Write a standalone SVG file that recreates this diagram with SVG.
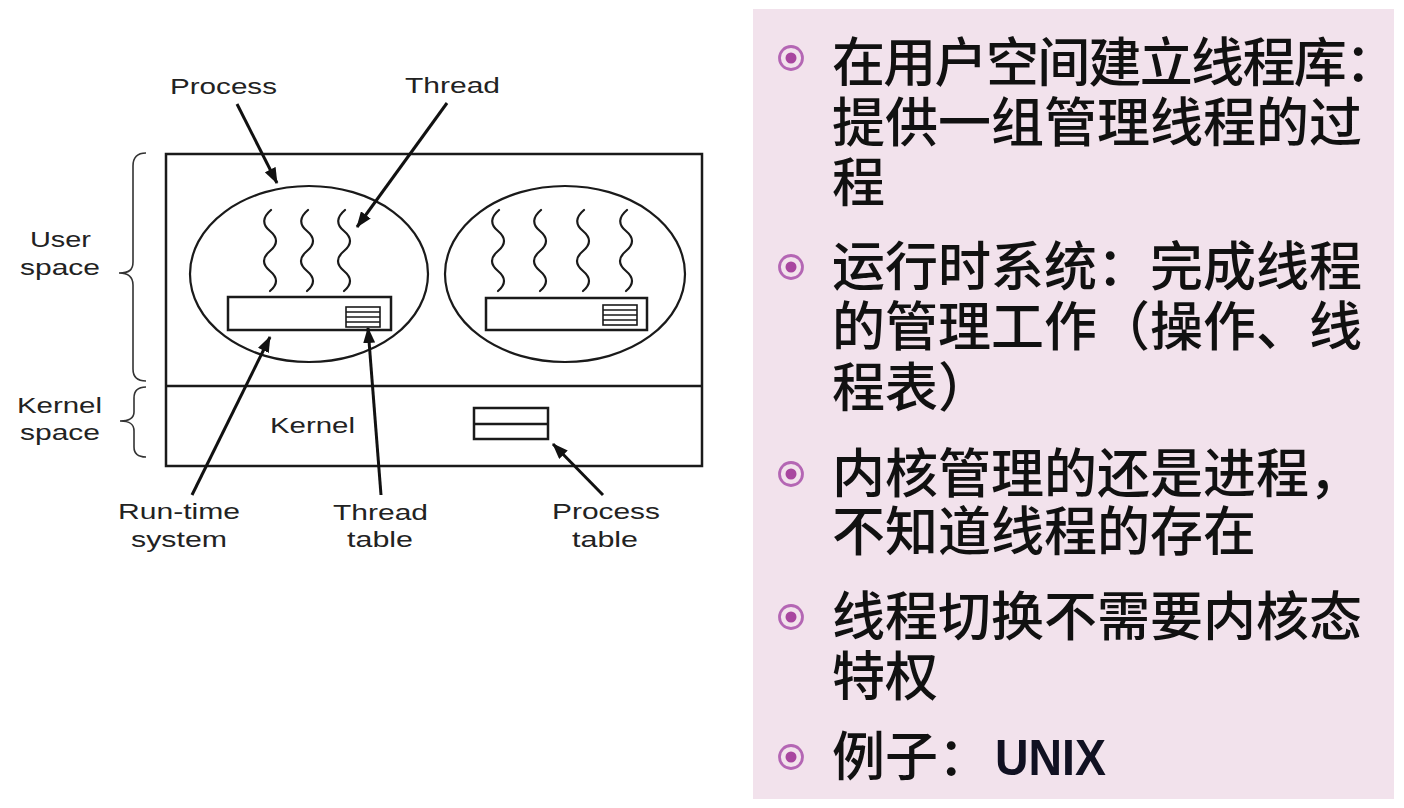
<svg xmlns="http://www.w3.org/2000/svg" width="1404" height="808" viewBox="0 0 1404 808">
<style>
.box{fill:none;stroke:#1a1a1a;stroke-width:2.5}
.ell{fill:none;stroke:#1a1a1a;stroke-width:2.2}
.thin{fill:none;stroke:#1a1a1a;stroke-width:1.6}
.sq{fill:none;stroke:#1a1a1a;stroke-width:2.2;stroke-linecap:round}
.brace{fill:none;stroke:#333;stroke-width:1.6}
.lbl{font-family:"Liberation Sans",Arial,sans-serif;font-size:22px;fill:#222}
.conn{stroke:#111;stroke-width:3;fill:none}
.cjk{font-family:"Noto Sans CJK SC","Noto Sans",sans-serif;font-size:53px;font-weight:500;fill:#111}
.lat{font-family:"Liberation Sans",Arial,sans-serif;font-size:50px;font-weight:bold;fill:#111122}
.ring{fill:none;stroke:#b466b4;stroke-width:2.8}
.dot{fill:#a8469f}
</style>
<defs>
<marker id="ah" markerUnits="userSpaceOnUse" markerWidth="16" markerHeight="12" refX="15" refY="6" orient="auto">
<path d="M0,0 L16,6 L0,12 Z" fill="#111"/>
</marker>
<path id="squig" d="M1,210 q-13,11 -1,21 t0,20 t0,20 t0,20"/>
</defs>
<rect width="1404" height="808" fill="#ffffff"/>

<g id="outer-box">
<rect class="box" x="166" y="154" width="536" height="312"/>
<line class="box" x1="166" y1="386" x2="702" y2="386"/>
</g>

<g id="process-left">
<ellipse class="ell" cx="309" cy="274" rx="119" ry="88"/>
<use href="#squig" class="sq" x="270"/>
<use href="#squig" class="sq" x="307"/>
<use href="#squig" class="sq" x="344"/>
<rect class="box" x="228" y="297" width="163" height="33"/>
<rect class="thin" x="346" y="307" width="34" height="20"/>
<path class="thin" d="M346,312 H380 M346,317 H380 M346,322 H380"/>
</g>

<g id="process-right">
<ellipse class="ell" cx="565" cy="274" rx="120" ry="88"/>
<use href="#squig" class="sq" x="498"/>
<use href="#squig" class="sq" x="540"/>
<use href="#squig" class="sq" x="583"/>
<use href="#squig" class="sq" x="626"/>
<rect class="box" x="486" y="298" width="161" height="32"/>
<rect class="thin" x="603" y="305" width="34" height="20"/>
<path class="thin" d="M603,310 H637 M603,315 H637 M603,320 H637"/>
</g>

<g id="process-table">
<rect class="box" x="474" y="408" width="74" height="31"/>
<line class="box" x1="474" y1="424" x2="548" y2="424"/>
</g>

<g id="user-space">
<path class="brace" d="M146,153 C137,153 133,157 133,166 L133,262 C133,270 129,273 119,273 C129,273 133,277 133,285 L133,369 C133,377 137,381 146,381"/>
<text class="lbl" x="30" y="247" textLength="61" lengthAdjust="spacingAndGlyphs">User</text>
<text class="lbl" x="20" y="275" textLength="80" lengthAdjust="spacingAndGlyphs">space</text>
</g>

<g id="kernel-space">
<path class="brace" d="M146,387 C137,387 134,391 134,398 L134,412 C134,418 130,421 120,421 C130,421 134,424 134,431 L134,447 C134,453 137,457 146,457"/>
<text class="lbl" x="17" y="413" textLength="85" lengthAdjust="spacingAndGlyphs">Kernel</text>
<text class="lbl" x="20" y="440" textLength="80" lengthAdjust="spacingAndGlyphs">space</text>
</g>

<g id="kernel">
<text class="lbl" x="270" y="433" textLength="85" lengthAdjust="spacingAndGlyphs">Kernel</text>
</g>

<g id="labels">
<text class="lbl" x="170" y="94" textLength="107" lengthAdjust="spacingAndGlyphs">Process</text>
<text class="lbl" x="405" y="93" textLength="95" lengthAdjust="spacingAndGlyphs">Thread</text>
<text class="lbl" x="118" y="519" textLength="122" lengthAdjust="spacingAndGlyphs">Run-time</text>
<text class="lbl" x="131" y="547" textLength="96" lengthAdjust="spacingAndGlyphs">system</text>
<text class="lbl" x="333" y="520" textLength="95" lengthAdjust="spacingAndGlyphs">Thread</text>
<text class="lbl" x="347" y="547" textLength="66" lengthAdjust="spacingAndGlyphs">table</text>
<text class="lbl" x="552" y="519" textLength="108" lengthAdjust="spacingAndGlyphs">Process</text>
<text class="lbl" x="572" y="547" textLength="66" lengthAdjust="spacingAndGlyphs">table</text>
</g>

<g id="connectors">
<line class="conn" x1="237" y1="104" x2="277" y2="183" marker-end="url(#ah)"/>
<line class="conn" x1="447" y1="103" x2="357" y2="227" marker-end="url(#ah)"/>
<line class="conn" x1="192" y1="495" x2="270" y2="337" marker-end="url(#ah)"/>
<line class="conn" x1="381" y1="495" x2="368" y2="328" marker-end="url(#ah)"/>
<line class="conn" x1="603" y1="495" x2="553" y2="444" marker-end="url(#ah)"/>
</g>

<g id="panel">
<rect x="753" y="9" width="641" height="790" fill="#f2e2ec"/>
</g>

<g id="bullet-1">
<circle class="ring" cx="791" cy="58" r="11.5"/><circle class="dot" cx="791" cy="58" r="5.5"/>
<text class="cjk" x="832" y="82" textLength="566" lengthAdjust="spacing">在用户空间建立线程库：</text>
<text class="cjk" x="832" y="142">提供一组管理线程的过</text>
<text class="cjk" x="832" y="202">程</text>
</g>
<g id="bullet-2">
<circle class="ring" cx="791" cy="267" r="11.5"/><circle class="dot" cx="791" cy="267" r="5.5"/>
<text class="cjk" x="832" y="286">运行时系统：完成线程</text>
<text class="cjk" x="832" y="346">的管理工作（操作、线</text>
<text class="cjk" x="832" y="407">程表）</text>
</g>
<g id="bullet-3">
<circle class="ring" cx="791" cy="474" r="11.5"/><circle class="dot" cx="791" cy="474" r="5.5"/>
<text class="cjk" x="832" y="493">内核管理的还是进程，</text>
<text class="cjk" x="832" y="551">不知道线程的存在</text>
</g>
<g id="bullet-4">
<circle class="ring" cx="791" cy="617" r="11.5"/><circle class="dot" cx="791" cy="617" r="5.5"/>
<text class="cjk" x="832" y="636">线程切换不需要内核态</text>
<text class="cjk" x="832" y="696">特权</text>
</g>
<g id="bullet-5">
<circle class="ring" cx="791" cy="757" r="11.5"/><circle class="dot" cx="791" cy="757" r="5.5"/>
<text class="cjk" x="832" y="776">例子：</text>
<text class="lat" x="995" y="775" textLength="111" lengthAdjust="spacingAndGlyphs">UNIX</text>
</g>
</svg>
